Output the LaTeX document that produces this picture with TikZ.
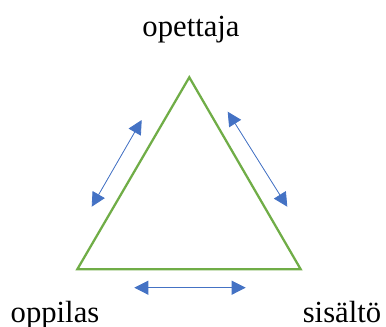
\documentclass[tikz,border=0pt]{standalone}
\usepackage{fontspec}
\setmainfont{Liberation Serif}
\usepackage{tikz}
\usetikzlibrary{arrows.meta,positioning}
\definecolor{sidegreen}{RGB}{112,173,71}
\definecolor{arrowblue}{RGB}{68,114,196}
\tikzset{
  side/.style={draw=sidegreen, line width=1.7pt, line join=miter},
  relation/.style={
    {Triangle[length=10.5pt,width=10.5pt]}-{Triangle[length=10.5pt,width=10.5pt]},
    draw=arrowblue, fill=arrowblue, line width=0.6pt
  },
  rolelabel/.style={font=\fontsize{23}{28}\selectfont, anchor=base, inner sep=0pt}
}
\begin{document}
\begin{tikzpicture}[x=0.75pt,y=-0.75pt]
  \useasboundingbox (0,0) rectangle (386,327);

  % corners of the triangle
  \coordinate (top) at (189.3,77.3);
  \coordinate (left) at (77.3,269.3);
  \coordinate (right) at (300.7,269.3);
  \draw[side] (top) -- (left) -- (right) -- cycle;

  % labels
  \node[rolelabel] (teacher) at (191,37) {opettaja};
  \node[rolelabel] (pupil) at (55,322.5) {oppilas};
  \node[rolelabel] (content) at (342,322.5) {sisältö};

  % ends of the arrows
  \coordinate (la) at (141.7,120);
  \coordinate (lb) at (91.7,206.7);
  \coordinate (ra) at (227.7,111.7);
  \coordinate (rb) at (287.3,206.7);
  \coordinate (ba) at (134.3,287.7);
  \coordinate (bb) at (245.7,287.7);

  \draw[relation] (la) -- (lb);
  \draw[relation] (ra) -- (rb);
  \draw[relation] (ba) -- (bb);
\end{tikzpicture}
\end{document}
